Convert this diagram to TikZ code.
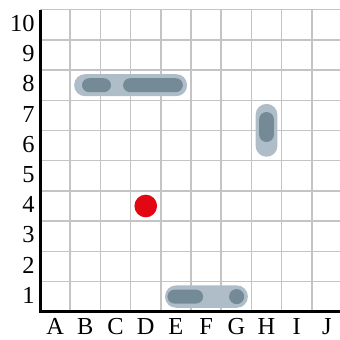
\documentclass[tikz,border=0pt]{standalone}
\usepackage{fontspec}
\setmainfont{Liberation Serif}
\usepackage{tikz}
\usetikzlibrary{positioning}
\definecolor{cGrid}  {HTML}{C4C4C4}
\definecolor{cShip}  {HTML}{AEBDC7}
\definecolor{cHit}   {HTML}{748B97}
\definecolor{cShot}  {HTML}{E30613}

\begin{document}
\begin{tikzpicture}[x=5mm, y=5mm,
    gridline/.style={draw=cGrid, line width=0.7pt},
    axisline/.style={draw=black, line width=1.4pt, line join=miter},
    shipbody/.style={fill=cShip, rounded corners=1.8mm},
    hitmark/.style={fill=cHit, rounded corners=1.15mm},
    lbl/.style={font=\fontsize{11.5}{13}\selectfont, inner sep=0pt}]
  \useasboundingbox (-1.325,-0.937) rectangle (9.9,10.32);
  % board 10x10
  \draw[gridline, step=1] (0,0) grid (10,10);
  \draw[axisline] (0,10) -- (0,0) -- (10,0);
  % row and column labels
  \foreach \r in {1,...,10}{
    \node[lbl, anchor=base east] (row-\r) at (-0.165, \r-0.72) {\r};
  }
  \foreach \c [count=\i] in {A,B,C,D,E,F,G,H,I,J}{
    \node[lbl, anchor=base] (col-\c) at (\i-0.5, -0.74) {\c};
  }
  % ship on row 8 (B--E)
  \fill[shipbody] (1.13,7.135) rectangle (4.87,7.865);
  \fill[hitmark] (1.39,7.27) rectangle (2.35,7.73);
  \fill[hitmark] (2.75,7.27) rectangle (4.73,7.73);
  % ship on column H (6--7)
  \fill[shipbody] (7.14,5.13) rectangle (7.86,6.88);
  \fill[hitmark, rounded corners=1.2mm] (7.255,5.62) rectangle (7.745,6.61);
  % ship on row 1 (E--G)
  \fill[shipbody] (4.14,0.13) rectangle (6.88,0.87);
  \fill[hitmark] (4.22,0.27) rectangle (5.40,0.73);
  \fill[cHit] (6.51,0.5) circle (0.25);
  % shot at D4
  \fill[cShot] (3.5,3.5) circle (0.375);
\end{tikzpicture}
\end{document}
